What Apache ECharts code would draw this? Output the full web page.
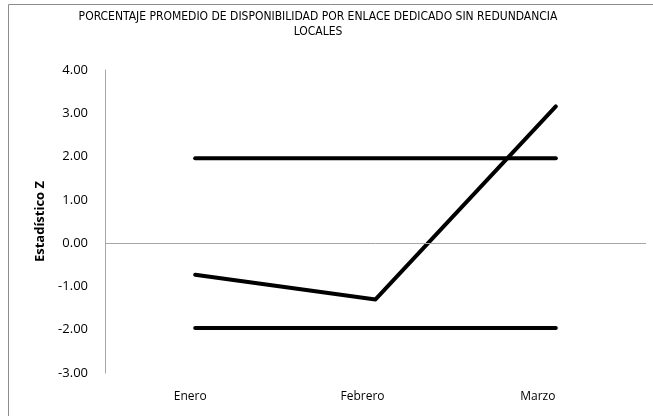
<!DOCTYPE html>
<html>
<head>
<meta charset="utf-8">
<script src="https://cdn.jsdelivr.net/npm/echarts@6/dist/echarts.min.js"></script>
<style>html,body{margin:0;padding:0;background:#fff}#c{width:653px;height:416px}</style>
</head>
<body>
<div id="c"></div>
<script>
const categories = ['Enero', 'Febrero', 'Marzo'];
const zValues = [-0.73, -1.30, 3.16];
const upperLimit = [1.96, 1.96, 1.96];
const lowerLimit = [-1.96, -1.96, -1.96];
const yTicks = { min: -3, max: 4, interval: 1 };
const titleText = 'PORCENTAJE PROMEDIO DE DISPONIBILIDAD POR ENLACE DEDICADO SIN REDUNDANCIA\nLOCALES';
const yName = 'Estadístico Z';

const chart = echarts.init(document.getElementById('c'), null, { renderer: 'canvas' });
const lineStyle = { color: '#000', width: 4, cap: 'round', join: 'round' };
const baseSeries = (name, data) => ({
  name, type: 'line', data, symbol: 'none', lineStyle, silent: true, animation: false
});
const labelFont = { fontFamily: '"Open Sans", sans-serif', fontSize: 12, color: '#000' };
chart.setOption({
  animation: false,
  backgroundColor: '#fff',
  title: {
    text: titleText, left: 313, top: 4, textAlign: 'center',
    textStyle: { fontFamily: '"Liberation Sans Narrow", "DejaVu Sans Condensed", sans-serif', fontSize: 12, fontWeight: 'normal', color: '#000', lineHeight: 15 }
  },
  grid: { left: 105, right: 7, top: 70, bottom: 43 },
  xAxis: {
    type: 'category', data: categories, boundaryGap: true,
    axisLine: { show: false }, axisTick: { show: false },
    axisLabel: {
      margin: 18, ...labelFont,
      formatter: (v, i) => '{c' + i + '|' + v + '}',
      rich: {
        c0: { ...labelFont, padding: [0, 10, 0, 0] },
        c1: { ...labelFont, padding: [0, 26, 0, 0] },
        c2: { ...labelFont, padding: [0, 36, 0, 0] }
      }
    },
    splitLine: { show: false }
  },
  yAxis: {
    type: 'value', min: yTicks.min, max: yTicks.max, interval: yTicks.interval,
    name: yName, nameLocation: 'middle', nameGap: 57, nameRotate: 90,
    nameTextStyle: { fontFamily: '"Open Sans", sans-serif', fontSize: 13, fontWeight: 'bold', color: '#000' },
    axisLine: { show: true, lineStyle: { color: '#a6a6a6', width: 1 } },
    axisTick: { show: false },
    axisLabel: { margin: 17, fontFamily: '"Open Sans", sans-serif', fontSize: 13, color: '#000', formatter: v => v.toFixed(2) },
    splitLine: { show: false }
  },
  series: [
    Object.assign(baseSeries('zero', []), {
      markLine: { silent: true, symbol: 'none', label: { show: false },
        lineStyle: { color: '#a6a6a6', width: 1, type: 'solid' }, data: [{ yAxis: 0 }] }
    }),
    baseSeries('Límite superior', upperLimit),
    baseSeries('Límite inferior', lowerLimit),
    baseSeries('Z', zValues)
  ],
  graphic: [
    { type: 'line', shape: { x1: 8.5, y1: 4.5, x2: 653, y2: 4.5 }, style: { stroke: '#8c8c8c', lineWidth: 1 } },
    { type: 'line', shape: { x1: 8.5, y1: 4.5, x2: 8.5, y2: 416 }, style: { stroke: '#8c8c8c', lineWidth: 1 } }
  ]
});
</script>
</body>
</html>
